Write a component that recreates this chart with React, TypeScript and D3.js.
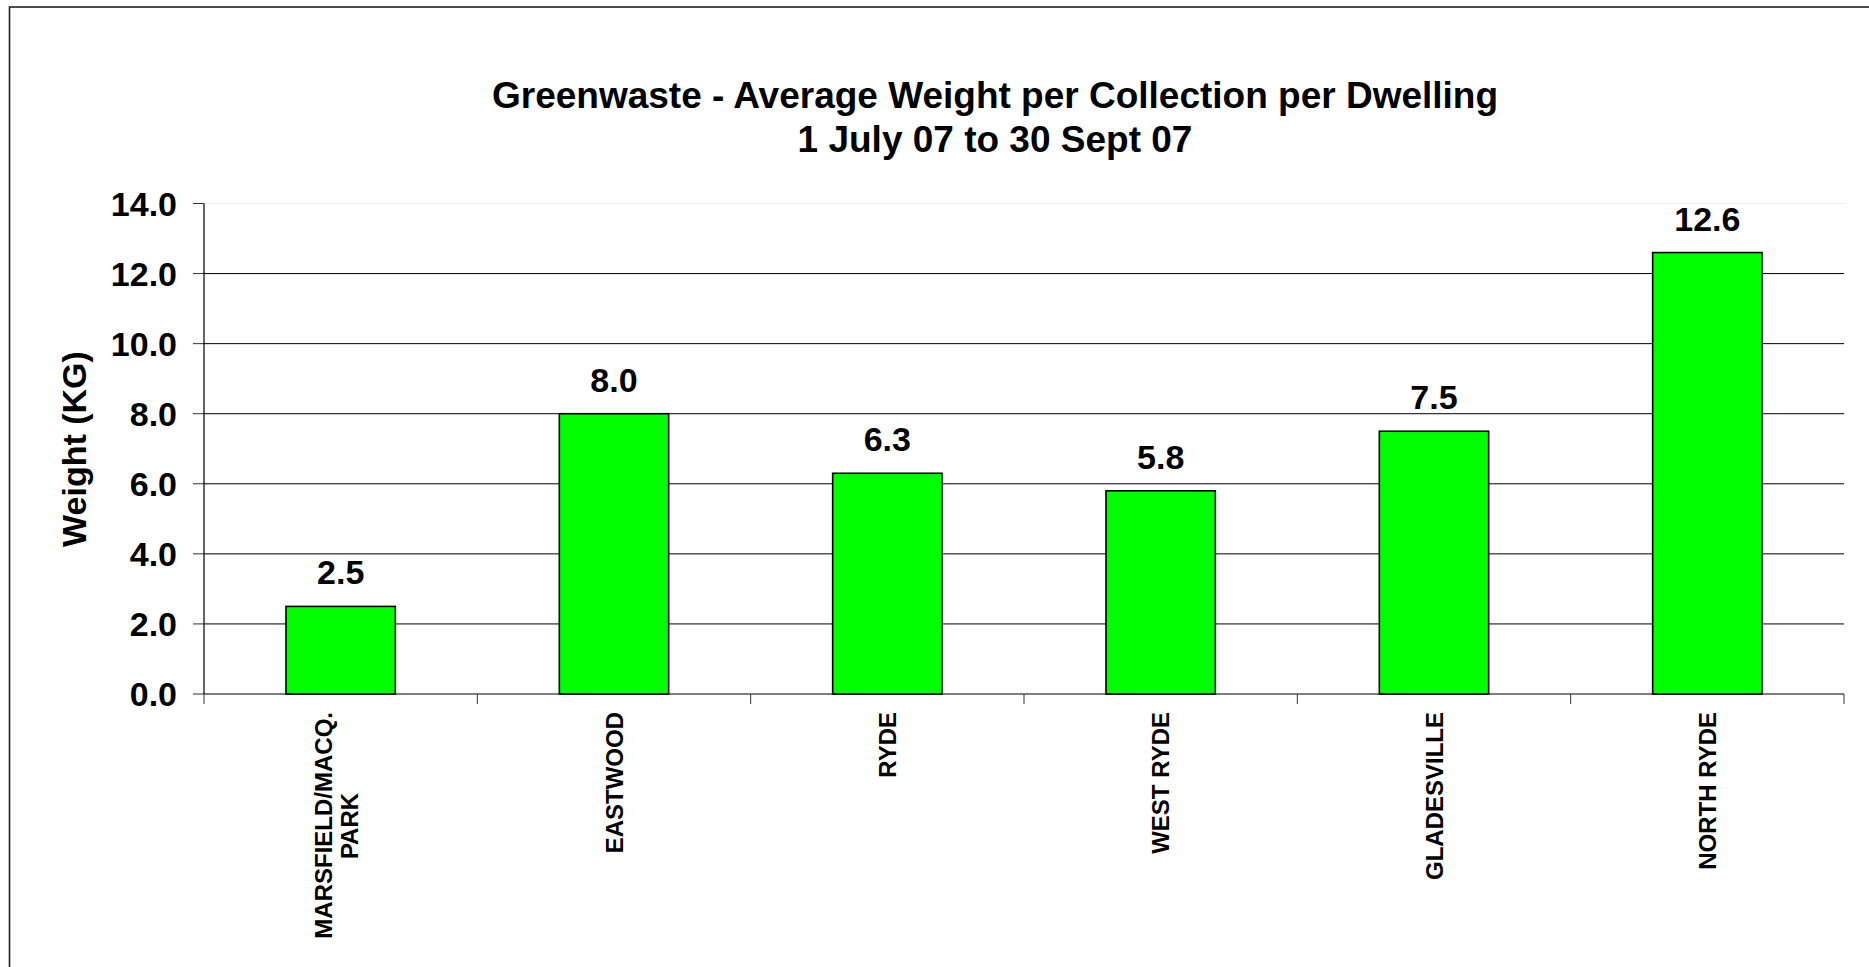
import React from "react";
import * as d3 from "d3";

const categories = ["MARSFIELD/MACQ.\nPARK", "EASTWOOD", "RYDE", "WEST RYDE", "GLADESVILLE", "NORTH RYDE"];
const values = [2.5, 8.0, 6.3, 5.8, 7.5, 12.6];
const yTicks = [0, 2, 4, 6, 8, 10, 12, 14];
const titleLines = ["Greenwaste - Average Weight per Collection per Dwelling", "1 July 07 to 30 Sept 07"];
const yLabel = "Weight (KG)";

const W = 1869;
const H = 967;
const left = 204;
const right = 1844;
const top = 203.5;
const bottom = 694;
const font = "Arial, 'Liberation Sans', Helvetica, sans-serif";

export default function App() {
  const x = d3.scaleBand<string>().domain(categories).range([left, right]).paddingInner(0.6).paddingOuter(0.3);
  const xOuter = d3.scaleBand<string>().domain(categories).range([left, right]);
  const y = d3.scaleLinear().domain([0, 14]).range([bottom, top]);
  const fmt = d3.format(".1f");

  return (
    <svg width={W} height={H} style={{ position: "absolute", left: 0, top: 0, background: "#fff" }} fontFamily={font}>
      <rect x={0} y={0} width={W} height={H} fill="#fff" />
      <rect x={9.5} y={7} width={W + 20} height={H + 20} fill="none" stroke="#222" strokeWidth={1.6} />
      {titleLines.map((t, i) => (
        <text key={i} x={995} y={108 + i * 44} textAnchor="middle" fontWeight="bold" fontSize={37} fill="#000">
          {t}
        </text>
      ))}
      {yTicks.map((t) => (
        <g key={t}>
          {t > 0 && (
            <line x1={left} x2={right} y1={y(t)} y2={y(t)} stroke={t === 14 ? "#eeeeee" : "#000"} strokeWidth={1} />
          )}
          <line x1={left - 11} x2={left} y1={y(t)} y2={y(t)} stroke="#333" strokeWidth={1} />
          <text x={177} y={y(t)} dy="0.36em" textAnchor="end" fontWeight="bold" fontSize={34} fill="#000">
            {fmt(t)}
          </text>
        </g>
      ))}
      {categories.map((c, i) => (
        <g key={c}>
          <rect
            x={x(c)}
            y={y(values[i])}
            width={x.bandwidth()}
            height={bottom - y(values[i])}
            fill="#00ff00"
            stroke="#000"
            strokeWidth={1.6}
          />
          <text
            x={(x(c) as number) + x.bandwidth() / 2}
            y={y(values[i]) - 22}
            textAnchor="middle"
            fontWeight="bold"
            fontSize={34}
            fill="#000"
          >
            {fmt(values[i])}
          </text>
        </g>
      ))}
      <line x1={left} x2={left} y1={top} y2={bottom} stroke="#000" strokeWidth={1.2} />
      <line x1={left} x2={right} y1={bottom} y2={bottom} stroke="#000" strokeWidth={1.2} />
      {d3.range(categories.length + 1).map((i) => {
        const xx = left + i * xOuter.bandwidth();
        return <line key={i} x1={xx} x2={xx} y1={bottom} y2={bottom + 10} stroke="#333" strokeWidth={1} />;
      })}
      {categories.map((c) => {
        const lines = c.split("\n");
        const cx = (xOuter(c) as number) + xOuter.bandwidth() / 2;
        const lh = 26;
        return lines.map((ln, j) => {
          const offset = (j - (lines.length - 1) / 2) * lh;
          const tx = cx + offset - (lines.length > 1 ? 4 : 0);
          const anchorEnd = lines.length === 1 || j === 0;
          return (
            <text
              key={c + j}
              transform={`translate(${tx},${anchorEnd ? 712 : 712 + 114}) rotate(-90)`}
              textAnchor={anchorEnd ? "end" : "middle"}
              dominantBaseline="central"
              fontWeight="bold"
              fontSize={24}
              fill="#000"
            >
              {ln}
            </text>
          );
        });
      })}
      <text
        transform={`translate(74,449) rotate(-90)`}
        textAnchor="middle"
        dominantBaseline="central"
        fontWeight="bold"
        fontSize={34}
        fill="#000"
      >
        {yLabel}
      </text>
    </svg>
  );
}
